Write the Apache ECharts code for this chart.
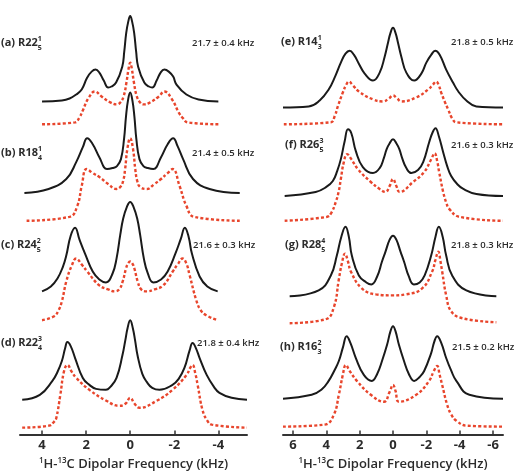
<!DOCTYPE html>
<html>
<head>
<meta charset="utf-8">
<script src="https://cdn.jsdelivr.net/npm/echarts@6/dist/echarts.min.js"></script>
<style>
  html, body { margin: 0; padding: 0; background: #fff; }
  #chart { width: 516px; height: 476px; }
</style>
</head>
<body>
<div id="chart"></div>
<script>
// dipolar frequency (kHz) vs intensity, one array per trace
// black = experiment, red dashed = simulation
const blackA = [[4.0,0],[3.1,1],[2.75,3],[2.45,7],[2.2,12],[1.95,24],[1.75,30],[1.57,32],[1.4,29],[1.2,21],[1.0,14],[0.85,15],[0.64,19],[0.36,35],[0.27,50],[0.18,69],[0.09,80],[0,86],[-0.09,80],[-0.18,69],[-0.27,50],[-0.36,35],[-0.64,19],[-0.85,15],[-1.0,14],[-1.2,21],[-1.38,29],[-1.55,32],[-1.75,30],[-1.95,25],[-2.1,17],[-2.55,7],[-3.1,2],[-4.0,0]];
const redA = [[4.0,0],[2.5,2],[2.3,7],[2.15,14],[1.9,26],[1.6,33],[1.3,28],[0.9,22],[0.6,20],[0.45,22],[0.3,28],[0.17,42],[0.08,55],[0,62],[-0.08,55],[-0.17,42],[-0.3,28],[-0.45,22],[-0.6,20],[-0.9,22],[-1.3,28],[-1.55,33],[-1.9,25],[-2.2,12],[-2.4,6],[-2.6,2],[-4.0,0]];
const blackB = [[4.8,0],[3.7,4],[2.9,14],[2.45,31],[2.15,46],[1.95,55],[1.7,49],[1.4,36],[1.05,24],[0.8,25],[0.6,27],[0.42,34],[0.28,54],[0.19,77],[0.1,93],[0,101],[-0.1,93],[-0.19,77],[-0.28,54],[-0.42,34],[-0.6,27],[-0.8,25],[-1.05,24],[-1.4,36],[-1.7,49],[-1.95,55],[-2.15,47],[-2.4,34],[-2.85,14],[-3.6,4],[-4.97,0]];
const redB = [[4.7,0],[2.75,4],[2.4,15],[2.2,35],[1.98,52],[1.7,48],[1.4,44],[1.0,37],[0.63,32],[0.45,34],[0.32,40],[0.23,52],[0.13,72],[0,83],[-0.13,72],[-0.23,52],[-0.32,40],[-0.45,34],[-0.75,32],[-1.1,37],[-1.4,42],[-1.7,48],[-1.93,52],[-2.24,35],[-2.55,15],[-2.9,4],[-4.97,0]];
const blackC = [[4.0,0],[3.6,5],[3.3,13],[3.05,25],[2.9,36],[2.7,56],[2.5,64],[2.3,52],[2.05,38],[1.7,20],[1.4,12],[1.1,9],[0.8,18],[0.62,33],[0.45,57],[0.32,73],[0.15,85],[0,90],[-0.15,85],[-0.32,73],[-0.45,57],[-0.62,33],[-0.8,18],[-1.05,9],[-1.4,12],[-1.7,20],[-2.05,38],[-2.3,53],[-2.48,64],[-2.65,55],[-2.8,38],[-3.15,15],[-3.5,5],[-3.97,0]];
const redC = [[4.0,0],[3.45,4],[3.25,10],[3.1,19],[2.9,39],[2.65,55],[2.45,62],[2.2,56],[1.95,49],[1.4,35],[1.0,31],[0.7,29],[0.5,31],[0.34,39],[0.19,52],[0.1,57],[0,59],[-0.1,57],[-0.19,52],[-0.34,39],[-0.5,31],[-0.75,29],[-1.1,31],[-1.5,35],[-1.93,49],[-2.15,56],[-2.38,62],[-2.55,57],[-2.7,45],[-3.0,20],[-3.2,10],[-3.45,5],[-3.97,0]];
const blackD = [[4.9,0],[4.1,5],[3.53,19],[3.3,28],[3.1,39],[2.95,52],[2.85,58],[2.7,54],[2.5,42],[2.15,22],[1.85,15],[1.55,11],[1.1,10],[0.9,13],[0.62,22],[0.35,45],[0.22,60],[0.12,72],[0,80],[-0.12,72],[-0.22,60],[-0.33,45],[-0.55,26],[-0.75,18],[-1.0,12],[-1.33,10],[-1.92,15],[-2.2,21],[-2.46,32],[-2.7,50],[-2.83,57],[-2.98,52],[-3.15,42],[-3.47,25],[-3.8,13],[-4.05,7],[-4.6,2],[-5.3,0]];
const redD = [[4.9,0],[3.68,2],[3.45,6],[3.35,10],[3.17,33],[3.0,57],[2.85,63],[2.65,56],[2.45,50],[1.85,38],[1.08,27],[0.5,22],[0.22,24],[0,30],[-0.2,24],[-0.42,20],[-1.2,27],[-1.92,38],[-2.56,53],[-2.72,60],[-2.83,63],[-2.95,55],[-3.06,43],[-3.29,17],[-3.5,7],[-3.7,3],[-5.3,0]];

const blackE = [[6.6,0],[5.06,1],[4.4,7],[3.86,18],[3.45,32],[3.13,45],[2.85,54],[2.6,57],[2.35,53],[2.05,44],[1.7,34],[1.2,27],[0.8,35],[0.5,51],[0.3,65],[0.15,75],[0,80],[-0.15,75],[-0.3,65],[-0.5,51],[-0.8,35],[-1.27,27],[-1.7,34],[-2.0,45],[-2.3,53],[-2.53,57],[-2.8,53],[-3.19,38],[-3.6,25],[-3.92,16],[-4.4,7],[-5.0,1],[-6.6,0]];
const redE = [[6.55,0],[3.73,2],[3.5,8],[3.31,18],[3.01,32],[2.8,40],[2.65,43],[2.4,39],[2.05,33],[1.2,25],[0.6,23],[0.25,26],[0,29],[-0.25,26],[-0.5,23],[-1.39,27],[-2.11,35],[-2.4,40],[-2.59,43],[-2.75,39],[-2.89,32],[-3.1,23],[-3.31,15],[-3.55,6],[-3.8,2],[-6.6,0]];
const blackF = [[6.5,0],[4.64,4],[4.0,9],[3.61,15],[3.35,25],[3.13,37],[2.9,55],[2.7,67],[2.5,63],[2.23,45],[1.81,29],[1.2,23],[0.8,28],[0.55,38],[0.38,47],[0.2,53],[0,57],[-0.2,53],[-0.38,47],[-0.55,38],[-0.8,28],[-1.1,23],[-1.5,26],[-1.81,34],[-2.17,54],[-2.38,64],[-2.55,68],[-2.75,60],[-3.01,44],[-3.25,30],[-3.49,20],[-3.85,12],[-4.22,7],[-5.0,2],[-6.6,0]];
const redF = [[6.5,0],[3.95,4],[3.7,8],[3.43,19],[3.25,30],[3.13,42],[2.95,59],[2.75,67],[2.5,62],[2.11,52],[1.33,39],[0.8,32],[0.45,29],[0.2,35],[0,42],[-0.2,35],[-0.4,29],[-1.2,39],[-1.87,49],[-2.3,62],[-2.5,68],[-2.65,60],[-2.77,49],[-3.01,29],[-3.2,18],[-3.37,12],[-3.98,4],[-6.6,0]];
const blackG = [[6.2,0],[4.46,6],[3.73,21],[3.37,41],[3.1,60],[2.85,70],[2.65,60],[2.47,41],[2.05,21],[1.6,14],[1.3,12],[0.95,20],[0.66,35],[0.45,45],[0.2,57],[0,61],[-0.2,57],[-0.45,45],[-0.66,35],[-0.95,20],[-1.25,12],[-1.6,14],[-1.9,21],[-2.29,41],[-2.55,60],[-2.75,70],[-2.98,60],[-3.19,41],[-3.55,21],[-4.4,6],[-6.2,0]];
const redG = [[6.2,0],[4.04,4],[3.55,16],[3.25,44],[3.07,60],[2.88,70],[2.7,62],[2.53,52],[1.87,35],[1.02,29],[0,28],[-0.78,29],[-1.75,35],[-2.35,52],[-2.55,64],[-2.72,72],[-2.85,62],[-2.95,52],[-3.19,28],[-3.49,12],[-4.16,5],[-6.2,1]];
const blackH = [[6.6,0],[4.88,4],[4.3,9],[3.86,18],[3.5,29],[3.25,38],[3.0,52],[2.78,63],[2.55,56],[2.23,41],[1.75,24],[1.27,18],[0.95,25],[0.66,38],[0.36,54],[0.15,68],[0,73],[-0.15,68],[-0.36,54],[-0.66,38],[-0.95,25],[-1.27,18],[-1.6,22],[-1.87,28],[-2.29,46],[-2.47,57],[-2.65,63],[-2.9,56],[-3.19,41],[-3.5,28],[-3.8,18],[-4.58,4],[-6.6,0]];
const redH = [[6.6,0],[4.1,2],[3.55,12],[3.25,32],[3.01,52],[2.83,62],[2.6,56],[2.17,46],[1.33,32],[0.54,25],[0.2,35],[0,42],[-0.15,36],[-0.36,25],[-1.39,32],[-2.17,46],[-2.45,56],[-2.65,61],[-2.8,52],[-2.95,42],[-3.25,22],[-3.5,12],[-3.8,6],[-4.4,1],[-6.6,0]];

// vertical offset of each stacked trace (same units as intensity)
const blackOffsetLeft = [335, 243, 144, 35];
const redOffsetLeft = [312, 215, 115, 7];
const blackOffsetRight = [329, 240, 139, 36];
const redOffsetRight = [312, 215, 112, 8];

const ticksLeft = [-4, -2, 0, 2, 4];
const ticksRight = [-6, -4, -2, 0, 2, 4, 6];

const panelNames = ['(a) R22', '(b) R18', '(c) R24', '(d) R22', '(e) R14', '(f) R26', '(g) R28', '(h) R16'];
const panelSub = ['5', '4', '5', '4', '3', '5', '5', '3'];
const panelSup = ['1', '1', '2', '3', '1', '3', '4', '2'];
const couplings = ['21.7 ± 0.4 kHz', '21.4 ± 0.5 kHz', '21.6 ± 0.3 kHz', '21.8 ± 0.4 kHz',
                   '21.8 ± 0.5 kHz', '21.6 ± 0.3 kHz', '21.8 ± 0.3 kHz', '21.5 ± 0.2 kHz'];

const FONT = '"Open Sans", "Noto Sans", sans-serif';
const TEXT = '#2b2b2b';

function trace(points, offset, idx, red) {
  return {
    type: 'line',
    xAxisIndex: idx,
    yAxisIndex: idx,
    data: points.map(p => [p[0], p[1] + offset]),
    smooth: 0.45,
    symbol: 'none',
    silent: true,
    z: red ? 2 : 3,
    lineStyle: red
      ? { color: '#e8452c', width: 2.4, type: [3, 2.2] }
      : { color: '#1a1a1a', width: 2 }
  };
}

function xAxis(idx, min, max, ticks) {
  return {
    gridIndex: idx,
    type: 'value',
    inverse: true,
    min: min,
    max: max,
    name: '{s|1}H-{s|13}C Dipolar Frequency (kHz)',
    nameLocation: 'middle',
    nameGap: 20,
    nameTextStyle: {
      color: TEXT, fontSize: 13, fontWeight: 600, fontFamily: FONT,
      rich: { s: { fontSize: 8, verticalAlign: 'top', lineHeight: 16, fontWeight: 600, fontFamily: FONT, color: TEXT } }
    },
    axisLine: { lineStyle: { color: '#333', width: 2 } },
    axisTick: { inside: true, length: 4, customValues: ticks, lineStyle: { color: '#333', width: 1.5 } },
    axisLabel: { customValues: ticks, margin: 4, color: TEXT, fontSize: 13, fontWeight: 'bold', fontFamily: FONT },
    splitLine: { show: false }
  };
}

const leftBlack = [blackA, blackB, blackC, blackD];
const leftRed = [redA, redB, redC, redD];
const rightBlack = [blackE, blackF, blackG, blackH];
const rightRed = [redE, redF, redG, redH];

const series = [];
for (let i = 0; i < 4; i++) {
  series.push(trace(leftRed[i], redOffsetLeft[i], 0, true));
  series.push(trace(leftBlack[i], blackOffsetLeft[i], 0, false));
  series.push(trace(rightRed[i], redOffsetRight[i], 1, true));
  series.push(trace(rightBlack[i], blackOffsetRight[i], 1, false));
}

// label positions (px)
const labelPos = [[1, 43], [1, 153], [1, 245], [1, 343], [281, 42], [285, 145], [285, 245], [280, 347]];
const valuePos = [[192, 43], [192, 153], [193, 245], [197, 343], [451, 42], [451, 145], [451, 245], [452, 347]];

const graphic = [];
for (let i = 0; i < 8; i++) {
  graphic.push({
    type: 'text',
    x: labelPos[i][0],
    y: labelPos[i][1],
    silent: true,
    style: {
      text: '{m|' + panelNames[i] + '}{b|' + panelSub[i] + '}{t|' + panelSup[i] + '}',
      verticalAlign: 'middle',
      rich: {
        m: { fontSize: 11, fontWeight: 'bold', fontFamily: FONT, fill: TEXT, lineHeight: 16 },
        b: { fontSize: 7, fontWeight: 'bold', fontFamily: FONT, fill: TEXT, lineHeight: 9, verticalAlign: 'bottom', width: 0 },
        t: { fontSize: 7, fontWeight: 'bold', fontFamily: FONT, fill: TEXT, lineHeight: 9, verticalAlign: 'top' }
      }
    }
  });
  graphic.push({
    type: 'text',
    x: valuePos[i][0],
    y: valuePos[i][1],
    silent: true,
    style: {
      text: couplings[i],
      verticalAlign: 'middle',
      font: '600 9.5px ' + FONT,
      fill: TEXT
    }
  });
}

const chart = echarts.init(document.getElementById('chart'), null, { renderer: 'canvas' });
chart.setOption({
  animation: false,
  backgroundColor: '#fff',
  grid: [
    { left: 20, top: 0, width: 227, height: 437 },
    { left: 283, top: 0, width: 220, height: 437 }
  ],
  xAxis: [xAxis(0, -5.3, 5.0, ticksLeft), xAxis(1, -6.6, 6.6, ticksRight)],
  yAxis: [
    { gridIndex: 0, type: 'value', min: 0, max: 437, show: false },
    { gridIndex: 1, type: 'value', min: 0, max: 437, show: false }
  ],
  graphic: graphic,
  series: series
});
</script>
</body>
</html>
